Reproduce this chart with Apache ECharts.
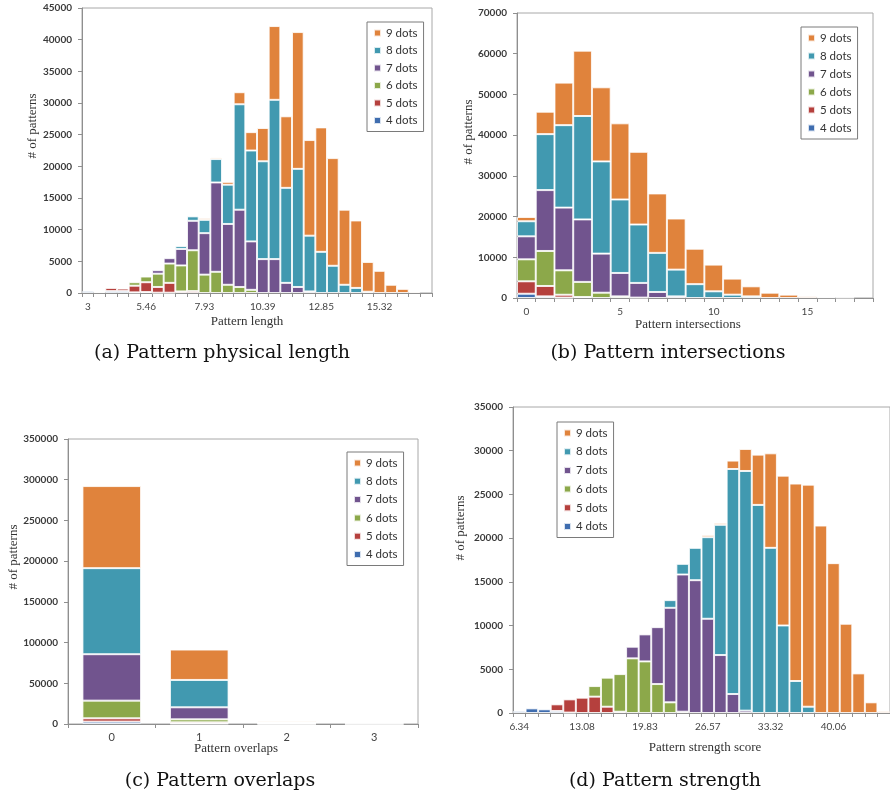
<!DOCTYPE html>
<html>
<head>
<meta charset="utf-8">
<script src="https://cdn.jsdelivr.net/npm/echarts@6/dist/echarts.min.js"></script>
<style>
html,body{margin:0;padding:0;background:#fff;overflow:hidden;}
#c{width:890px;height:797px;}
</style>
</head>
<body>
<div id="c"></div>
<script>
// ---------- shared ----------
const dotNames = ['4 dots', '5 dots', '6 dots', '7 dots', '8 dots', '9 dots'];
const legendOrder = ['9 dots', '8 dots', '7 dots', '6 dots', '5 dots', '4 dots'];
const dotColors = ['#3F6DAF', '#B5403D', '#8CA84A', '#71548E', '#4199B0', '#E0833C'];

// ---------- (a) Pattern physical length ----------
const lengthCats = ['3','3.49','3.99','4.48','4.97','5.46','5.96','6.45','6.94','7.44','7.93','8.42','8.91','9.41','9.90','10.39','10.88','11.38','11.87','12.36','12.85','13.35','13.84','14.33','14.83','15.32','15.81','16.30','16.80','17.29'];
const length4 = [300,150,300,300,100,150,50,50,0,0, 0,0,0,0,0,0,0,0,0,0, 0,0,0,0,0,0,0,0,0,0];
const length5 = [0,0,500,400,1050,1550,900,1550,250,300, 0,0,0,0,0,0,0,0,0,0, 0,0,0,0,0,0,0,0,0,0];
const length6 = [0,0,0,0,550,900,2100,3050,4100,6450, 2900,3350,1300,950,500,0,0,0,0,0, 0,0,0,0,0,0,0,0,0,0];
const length7 = [0,0,0,0,0,0,550,850,2600,4650, 6550,14100,9600,12200,7650,5350,5350,1600,950,250, 0,0,0,0,0,0,0,0,0,0];
const length8 = [0,0,0,0,0,0,0,0,450,700, 2100,3700,6200,16650,14350,15450,25150,15000,18650,8800, 6500,4300,1300,800,200,0,0,0,0,0];
const length9 = [0,0,0,0,0,0,0,0,0,0, 250,250,450,1900,2900,5250,11650,11300,21600,15100, 19650,17000,11850,10650,4700,3500,1300,650,200,0];

// ---------- (b) Pattern intersections ----------
const interCats = ['0','1','2','3','4','5','6','7','8','9','10','11','12','13','14','15','16','17','18'];
const inter4 = [1050,400,100,0,0,0,0,0,0,0,0,0,0,0,0,0,0,0,0];
const inter5 = [3050,2550,700,250,0,0,0,0,0,0,0,0,0,0,0,0,0,0,0];
const inter6 = [5400,8600,6000,3700,1300,400,100,0,0,0,0,0,0,0,0,0,0,0,0];
const inter7 = [5650,14950,15400,15350,9600,5750,3600,1480,400,0,0,0,0,0,0,0,0,0,0];
const inter8 = [3700,13750,20250,25400,22650,18050,14350,9600,6570,3400,1640,820,400,0,0,0,0,0,0];
const inter9 = [1050,5500,10450,16050,18200,18700,17850,14600,12550,8700,6560,3940,2470,1300,820,400,200,80,0];

// ---------- (c) Pattern overlaps ----------
const overlapCats = ['0','1','2','3'];
const overlap4 = [2900,500,100,0];
const overlap5 = [4100,1500,200,0];
const overlap6 = [21700,3700,300,0];
const overlap7 = [57000,14800,500,0];
const overlap8 = [105700,33600,1500,50];
const overlap9 = [100800,37300,1500,50];

// ---------- (d) Pattern strength ----------
const strengthCats = ['6.34','7.69','9.04','10.38','11.73','13.08','14.43','15.78','17.13','18.48','19.83','21.18','22.52','23.87','25.22','26.57','27.92','29.27','30.62','31.97','33.32','34.67','36.01','37.36','38.71','40.06','41.41','42.76','44.11','45.46'];
const strength4 = [230,530,420,230,50,0,0,0,0,0, 0,0,0,0,0,0,0,0,0,0, 0,0,0,0,0,0,0,0,0,0];
const strength5 = [0,0,0,760,1510,1750,1870,720,150,0, 0,0,0,0,0,0,0,0,0,0, 0,0,0,0,0,0,0,0,0,0];
const strength6 = [0,0,0,0,0,0,1210,3320,4300,6250, 5900,3310,1220,150,0,0,0,0,0,0, 0,0,0,0,0,0,0,0,0,0];
const strength7 = [0,0,0,0,0,0,0,0,0,1330, 3090,6510,10810,15690,15190,10780,6630,2170,270,0, 0,0,0,0,0,0,0,0,0,0];
const strength8 = [0,0,0,0,0,0,0,0,0,0, 0,120,880,1220,3700,9330,14890,25740,27410,23800, 18890,10010,3660,720,0,0,0,0,0,0];
const strength9 = [0,0,0,0,0,0,0,0,0,0, 0,0,0,0,0,230,220,960,2520,5750, 10810,17140,22580,25400,21440,17140,10210,4530,1220,190];

const yMax = [45000, 70000, 350000, 35000];
const yStep = [5000, 10000, 50000, 5000];

const panelData = [
  [length4, length5, length6, length7, length8, length9],
  [inter4, inter5, inter6, inter7, inter8, inter9],
  [overlap4, overlap5, overlap6, overlap7, overlap8, overlap9],
  [strength4, strength5, strength6, strength7, strength8, strength9]
];
const panelCats = [lengthCats, interCats, overlapCats, strengthCats];

const captions = ['(a) Pattern physical length', '(b) Pattern intersections', '(c) Pattern overlaps', '(d) Pattern strength'];
const xNames = ['Pattern length', 'Pattern intersections', 'Pattern overlaps', 'Pattern strength score'];
const yName = '# of patterns';

// ---------- layout ----------
const grids = [
  {left: 82, top: 8, width: 350, height: 285},
  {left: 517, top: 13, width: 356, height: 285},
  {left: 68, top: 439, width: 350, height: 285},
  {left: 513, top: 407, width: 379, height: 306}
];
const legendPos = [
  {left: 367, top: 22, gap: 5.5},
  {left: 801, top: 27, gap: 6},
  {left: 347, top: 452, gap: 6.3},
  {left: 557, top: 422, gap: 6.7}
];
const labelFont = 'Lato, "Open Sans", sans-serif';
const serif = '"Liberation Serif", "DejaVu Serif", serif';
const axisGrey = '#8f8f8f';

const option = {
  animation: false,
  backgroundColor: '#fff',
  color: dotColors,
  grid: grids.map(g => Object.assign({show: true, borderColor: '#a8a8a8', borderWidth: 1, backgroundColor: 'transparent', containLabel: false}, g)),
  xAxis: panelCats.map((cats, i) => ({
    type: 'category', gridIndex: i, data: cats,
    axisLine: {lineStyle: {color: axisGrey, width: 1}},
    axisTick: {show: true, interval: 0, alignWithLabel: false, length: 4, lineStyle: {color: axisGrey}},
    axisLabel: {interval: i === 2 ? 0 : 4, margin: i === 2 ? 8 : 9, fontFamily: labelFont, fontSize: i === 2 ? 11 : 10, color: '#444'},
    splitLine: {show: false}
  })),
  yAxis: yMax.map((m, i) => ({
    type: 'value', gridIndex: i, min: 0, max: m, interval: yStep[i],
    axisLine: {show: true, lineStyle: {color: axisGrey, width: 1}},
    axisTick: {show: true, length: 4, lineStyle: {color: axisGrey}},
    axisLabel: {margin: 10, fontFamily: labelFont, fontSize: 10, color: '#3a3a3a', fontWeight: 'bold', formatter: v => String(v)},
    splitLine: {show: false}
  })),
  legend: legendPos.map(p => ({
    orient: 'vertical', left: p.left, top: p.top,
    data: legendOrder, icon: 'rect', itemWidth: 7, itemHeight: 7, itemGap: p.gap,
    padding: [5, 6, 5, 6],
    borderColor: '#7a7a7a', borderWidth: 1, backgroundColor: '#fff',
    textStyle: {fontFamily: labelFont, fontSize: 11.5, color: '#333', lineHeight: 12},
    selectedMode: false
  })),
  series: [],
  graphic: []
};

panelData.forEach((arrs, p) => {
  arrs.forEach((vals, k) => {
    option.series.push({
      type: 'bar', name: dotNames[k], xAxisIndex: p, yAxisIndex: p,
      stack: 'p' + p, data: vals.map(v => (v === 0 ? null : v)),
      barCategoryGap: p === 2 ? '33%' : '0%',
      itemStyle: {color: dotColors[k], borderColor: 'rgba(255,255,255,0.8)', borderWidth: 1},
      emphasis: {disabled: true}
    });
  });
});

const capPos = [[222, 363], [668, 363], [220, 791], [665, 791]];
captions.forEach((t, i) => {
  option.graphic.push({type: 'text', x: capPos[i][0], y: capPos[i][1], silent: true,
    style: {text: t, font: '19px "DejaVu Serif", serif', fill: '#111', textAlign: 'center', textVerticalAlign: 'bottom'}});
});
const xNamePos = [[247, 322], [688, 325], [236, 749], [705, 748]];
xNames.forEach((t, i) => {
  option.graphic.push({type: 'text', x: xNamePos[i][0], y: xNamePos[i][1], silent: true,
    style: {text: t, font: '13px ' + serif, fill: '#333', textAlign: 'center', textVerticalAlign: 'middle'}});
});
const yNamePos = [[33, 126], [469, 132], [14, 557], [461, 528]];
yNamePos.forEach((pt) => {
  option.graphic.push({type: 'text', x: pt[0], y: pt[1], rotation: Math.PI / 2, silent: true,
    style: {text: yName, font: '13px ' + serif, fill: '#333', textAlign: 'center', textVerticalAlign: 'middle'}});
});

const chart = echarts.init(document.getElementById('c'), null, {renderer: 'canvas'});
chart.setOption(option);
</script>
</body>
</html>
